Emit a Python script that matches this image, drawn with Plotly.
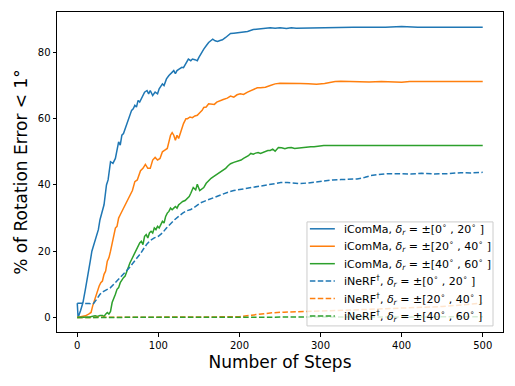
import plotly.graph_objects as go

# ---------------- data ----------------
icomma_0_20_steps = [0, 1, 4, 7, 10, 12, 14, 16, 18, 20, 22, 24, 26, 28, 31, 33, 36, 38, 41, 44, 47, 49, 51, 53, 55, 57, 59, 61, 63, 65, 67, 69, 71, 73, 75, 77, 79, 81, 83, 86, 88, 90, 93, 96, 99, 101, 103, 105, 107, 110, 113, 115, 117, 119, 121, 123, 126, 129, 131, 134, 137, 140, 142, 145, 148, 150, 153, 156, 159, 162, 165, 167, 170, 173, 176, 179, 183, 186, 189, 193, 198, 204, 210, 217, 222, 226, 232, 238, 244, 250, 258, 264, 270, 300, 340, 380, 400, 420, 500]
icomma_0_20 = [4.3, 0.0, 2.0, 4.5, 8.5, 11.0, 13.5, 17.0, 20.0, 21.5, 23.5, 25.0, 26.5, 29.5, 32.0, 34.0, 40.0, 41.5, 47.0, 46.5, 48.0, 51.0, 53.0, 52.0, 55.0, 55.5, 57.0, 58.5, 60.0, 61.0, 62.5, 63.0, 64.0, 63.5, 65.5, 65.0, 66.0, 66.5, 68.0, 68.5, 67.5, 68.5, 67.0, 68.0, 67.5, 69.0, 70.0, 70.5, 70.0, 72.0, 73.0, 73.6, 74.0, 74.5, 73.6, 74.5, 75.0, 75.5, 75.4, 76.5, 78.0, 77.5, 78.0, 77.8, 77.5, 78.5, 80.0, 81.0, 82.0, 83.0, 83.6, 84.0, 83.5, 83.3, 83.6, 83.8, 84.5, 85.2, 85.7, 85.8, 86.0, 86.2, 86.3, 86.9, 87.0, 87.2, 87.1, 87.4, 87.3, 87.4, 87.2, 87.4, 87.3, 87.5, 87.6, 87.6, 87.8, 87.6, 87.6]

icomma_20_40_steps = [0, 5, 10, 14, 17, 19, 21, 23, 25, 27, 29, 31, 33, 35, 37, 39, 41, 43, 45, 47, 49, 51, 53, 55, 57, 59, 62, 65, 68, 71, 74, 78, 81, 84, 87, 90, 93, 96, 99, 102, 105, 108, 111, 113, 115, 117, 119, 121, 123, 125, 128, 131, 134, 136, 139, 142, 145, 148, 151, 154, 156, 159, 162, 166, 169, 172, 176, 180, 185, 189, 193, 197, 201, 205, 210, 214, 218, 222, 226, 232, 238, 244, 250, 258, 266, 275, 285, 295, 305, 312, 318, 325, 335, 345, 360, 375, 390, 400, 410, 500]
icomma_20_40 = [0.0, 0.2, 0.5, 1.0, 1.5, 3.5, 5.0, 6.5, 8.5, 9.5, 10.5, 11.0, 13.0, 14.0, 17.0, 18.0, 20.0, 22.5, 24.0, 27.0, 27.5, 30.0, 31.0, 32.0, 33.0, 33.5, 35.0, 37.0, 38.3, 41.0, 41.5, 44.3, 45.0, 46.2, 45.0, 45.0, 47.5, 48.3, 47.5, 48.0, 50.0, 50.5, 51.0, 53.0, 55.0, 55.8, 55.0, 53.5, 55.0, 54.0, 56.5, 58.5, 60.0, 60.0, 60.5, 60.3, 60.8, 61.0, 61.8, 62.5, 63.4, 63.5, 64.5, 64.5, 64.3, 65.0, 65.5, 65.8, 66.2, 66.8, 66.5, 67.2, 67.5, 67.3, 68.0, 68.5, 68.8, 69.3, 69.3, 69.5, 70.0, 70.5, 70.7, 70.6, 70.7, 70.6, 70.5, 70.4, 70.6, 71.0, 71.2, 71.3, 71.2, 71.3, 71.1, 71.2, 71.0, 71.0, 71.2, 71.2]

icomma_40_60_steps = [0, 5, 10, 14, 18, 22, 25, 28, 31, 33, 35, 37, 39, 41, 43, 45, 47, 49, 51, 53, 55, 57, 59, 61, 63, 65, 67, 69, 71, 73, 75, 77, 79, 81, 83, 85, 87, 89, 91, 93, 95, 97, 99, 101, 103, 105, 107, 109, 111, 113, 115, 117, 119, 121, 123, 125, 127, 130, 133, 136, 138, 140, 143, 146, 148, 151, 154, 156, 159, 162, 165, 168, 171, 174, 177, 180, 183, 186, 189, 193, 196, 199, 202, 205, 208, 211, 214, 217, 220, 223, 226, 229, 232, 235, 238, 241, 244, 248, 252, 256, 260, 264, 268, 272, 276, 280, 284, 288, 292, 296, 300, 304, 500]
icomma_40_60 = [0.0, 0.0, 0.2, 0.1, 0.3, 0.5, 0.3, 0.6, 0.6, 0.3, 1.0, 1.5, 1.0, 1.8, 4.5, 5.5, 7.0, 8.5, 9.0, 10.5, 11.5, 12.0, 12.5, 14.0, 15.0, 16.5, 17.5, 18.5, 20.0, 20.5, 21.5, 22.5, 23.0, 22.0, 24.5, 25.0, 24.0, 25.5, 26.0, 25.5, 27.0, 26.5, 27.5, 27.0, 28.0, 29.0, 28.5, 30.5, 31.5, 32.0, 33.0, 32.5, 33.0, 33.5, 33.0, 34.0, 34.4, 35.0, 35.3, 36.0, 36.5, 37.5, 39.2, 38.5, 40.2, 38.3, 39.0, 39.2, 40.5, 41.3, 42.0, 42.5, 43.0, 43.5, 43.8, 44.3, 45.0, 45.8, 46.4, 46.8, 47.0, 47.3, 47.5, 48.0, 48.3, 48.8, 49.5, 49.3, 49.6, 49.8, 49.5, 49.8, 50.2, 50.4, 50.4, 50.8, 50.2, 51.3, 51.2, 50.9, 51.2, 51.3, 51.0, 51.1, 51.4, 51.3, 51.6, 51.5, 51.5, 51.7, 51.8, 51.9, 51.9]

inerf_0_20_steps = [0, 5, 10, 15, 18, 20, 24, 28, 32, 36, 41, 45, 49, 53, 57, 61, 65, 69, 73, 78, 82, 86, 90, 95, 100, 105, 110, 115, 120, 125, 130, 135, 140, 146, 152, 158, 164, 170, 176, 182, 188, 193, 200, 208, 217, 226, 235, 243, 251, 259, 267, 275, 285, 295, 305, 315, 325, 335, 345, 355, 362, 370, 383, 395, 411, 425, 440, 457, 465, 473, 485, 500]
inerf_0_20 = [4.3, 4.3, 4.3, 4.2, 4.0, 4.2, 5.5, 7.0, 7.8, 8.3, 9.0, 10.0, 11.0, 12.0, 13.0, 14.0, 15.2, 16.5, 17.6, 19.3, 20.8, 22.2, 23.2, 24.0, 24.5, 25.5, 27.0, 28.3, 29.5, 30.5, 31.5, 32.2, 32.6, 33.5, 34.6, 35.2, 35.8, 36.4, 36.8, 37.5, 38.0, 38.3, 38.6, 39.0, 39.2, 39.8, 40.2, 40.4, 40.7, 40.7, 40.5, 40.4, 40.6, 40.9, 41.3, 41.5, 41.6, 41.7, 41.8, 42.3, 42.8, 43.1, 43.4, 43.4, 43.3, 43.5, 43.3, 43.4, 43.6, 43.7, 43.6, 43.8]

inerf_20_40_steps = [0, 100, 195, 200, 215, 226, 240, 255, 270, 290, 310, 330, 350, 370, 390, 410, 430, 450, 470, 490, 500]
inerf_20_40 = [0.0, 0.0, 0.0, 0.2, 0.7, 1.1, 1.4, 1.6, 1.8, 1.9, 2.0, 2.2, 2.4, 2.6, 2.7, 2.8, 3.0, 3.3, 3.7, 4.2, 4.4]

inerf_40_60_steps = [0, 100, 200, 230, 260, 300, 350, 400, 450, 500]
inerf_40_60 = [0.0, 0.0, 0.0, 0.1, 0.2, 0.2, 0.2, 0.2, 0.2, 0.2]

x_ticks = [0, 100, 200, 300, 400, 500]
y_ticks = [0, 20, 40, 60, 80]

# ---------------- styling ----------------
BLUE, ORANGE, GREEN = "#1f77b4", "#ff7f0e", "#2ca02c"
FONT = "DejaVu Sans"
DASH = "5.5px,2.4px"
DELTA = "<i>δ<sub>r</sub></i>"
DEG = "<sup>∘</sup>"

def rng(a, b):
    return f"{DELTA} = ±[{a}{DEG} , {b}{DEG} ]"

series = [
    (icomma_0_20_steps, icomma_0_20, BLUE, "solid", "iComMa, " + rng(0, 20)),
    (icomma_20_40_steps, icomma_20_40, ORANGE, "solid", "iComMa, " + rng(20, 40)),
    (icomma_40_60_steps, icomma_40_60, GREEN, "solid", "iComMa, " + rng(40, 60)),
    (inerf_0_20_steps, inerf_0_20, BLUE, DASH, "iNeRF<sup>†</sup>, " + rng(0, 20)),
    (inerf_20_40_steps, inerf_20_40, ORANGE, DASH, "iNeRF<sup>†</sup>, " + rng(20, 40)),
    (inerf_40_60_steps, inerf_40_60, GREEN, DASH, "iNeRF<sup>†</sup>, " + rng(40, 60)),
]

fig = go.Figure()
for xs, ys, col, dash, name in series:
    fig.add_trace(go.Scatter(x=xs, y=ys, mode="lines", name=name, showlegend=False,
                             line=dict(color=col, width=1.5, dash=dash)))

# ---- legend drawn in paper coordinates (matplotlib-like compact legend) ----
leg_x0, leg_x1, leg_y0, leg_y1 = 0.5605, 0.9776, 0.019, 0.344
shapes = [dict(type="rect", xref="paper", yref="paper", x0=leg_x0, x1=leg_x1, y0=leg_y0, y1=leg_y1,
               fillcolor="rgba(255,255,255,0.8)", line=dict(color="#cccccc", width=1), layer="above")]
annotations = []
row_top, row_step = 0.3225, 0.0545
for i, (_, _, col, dash, name) in enumerate(series):
    yy = row_top - i * row_step
    shapes.append(dict(type="line", xref="paper", yref="paper", x0=0.567, x1=0.623, y0=yy, y1=yy,
                       line=dict(color=col, width=1.5, dash=dash), layer="above"))
    annotations.append(dict(xref="paper", yref="paper", x=0.639, y=yy, xanchor="left", yanchor="middle",
                            text=name, showarrow=False,
                            font=dict(family=FONT, size=11, color="black")))

# y-axis title placed as a rotated annotation
annotations.append(dict(xref="paper", yref="paper", x=-0.081, y=0.5, xanchor="center", yanchor="middle",
                        text="% of Rotation Error < 1°", textangle=-90, showarrow=False,
                        font=dict(family=FONT, size=17, color="black")))

ymax = max(icomma_0_20)
pad = ymax * 0.05
axis_common = dict(showline=True, linecolor="black", linewidth=1, mirror=True,
                   ticks="outside", ticklen=3.5, tickwidth=0.8, tickcolor="black",
                   showgrid=False, zeroline=False, automargin=False,
                   tickfont=dict(family=FONT, size=10, color="black"))

fig.update_layout(
    width=515, height=386,
    margin=dict(l=57, r=12, t=12, b=54),
    paper_bgcolor="white", plot_bgcolor="white",
    font=dict(family=FONT, color="black"),
    xaxis=dict(range=[-25, 525], tickvals=x_ticks,
               title=dict(text="Number of Steps", font=dict(family=FONT, size=17), standoff=6),
               **axis_common),
    yaxis=dict(range=[-pad, ymax + pad], tickvals=y_ticks, **axis_common),
    shapes=shapes,
    annotations=annotations,
    showlegend=False,
)

fig.write_html("out.html", config={"displayModeBar": False},
               post_script="document.body.style.margin='0';document.body.style.padding='0';")
